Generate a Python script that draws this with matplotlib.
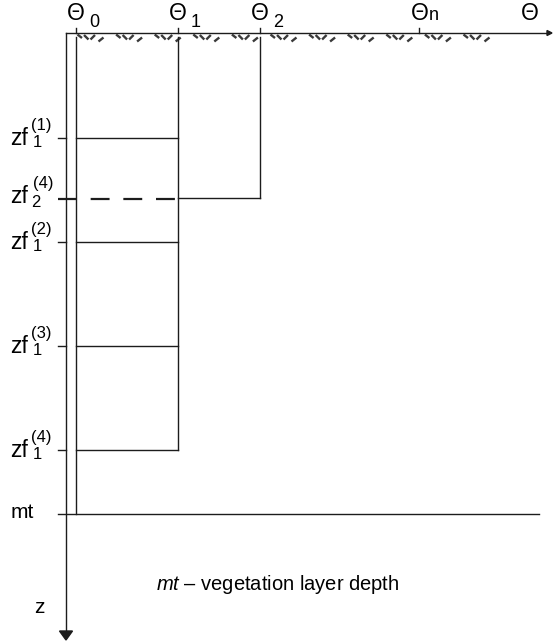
import matplotlib
matplotlib.use("Agg")
import matplotlib.pyplot as plt
from matplotlib.patches import Polygon

plt.rcParams["font.family"] = ["Liberation Sans", "DejaVu Sans"]
plt.rcParams["mathtext.fontset"] = "custom"
plt.rcParams["mathtext.it"] = "Liberation Sans:italic"
plt.rcParams["mathtext.rm"] = "Liberation Sans"

# Moisture axis (Θ) positions, measured from the depth axis
theta_names = ["0", "1", "2"]
theta_pos = [10, 112, 194]
theta_n_pos = 353
theta_end_label = 464
theta_axis_end = 486

# Depth (z) positions, measured down from the soil surface
zf1_depths = [104.7, 208.7, 313.0, 417.0]
zf1_labels = ["(1)", "(2)", "(3)", "(4)"]
zf2_depth = 166.0
zf2_label = "(4)"
mt_depth = 480.5
z_axis_end = 599

# Surface hatch groups
hatch_start = 11
hatch_step = 38.6
hatch_count = 11

INK = "#1c1c1c"
LW = 1.0

fig = plt.figure(figsize=(5.53, 6.44), dpi=100)
ax = fig.add_axes([0, 0, 1, 1])
ax.set_xlim(-66, 487)
ax.set_ylim(611, -33)
ax.axis("off")

# Axes: Θ along the top, z pointing down
ax.plot([0, theta_axis_end - 4], [0, 0], color=INK, lw=LW)
ax.add_patch(Polygon([[theta_axis_end - 5, -2.5], [theta_axis_end, 0],
                      [theta_axis_end - 5, 2.5]], closed=True, color=INK))
ax.plot([0, 0], [0, z_axis_end], color=INK, lw=LW)
ax.add_patch(Polygon([[-6.5, z_axis_end - 1], [6.5, z_axis_end - 1],
                      [0, z_axis_end + 8]], closed=True, color=INK))

# Θ ticks and labels
TH = 16.5
for name, x in zip(theta_names, theta_pos):
    ax.plot([x, x], [-5.5, 0], color=INK, lw=LW)
    ax.text(x, -13, "Θ", fontsize=TH, ha="center", va="baseline", color="black")
    ax.text(x + 13, -6, name, fontsize=13, ha="left", va="baseline", color="black")
ax.plot([theta_n_pos, theta_n_pos], [-5.5, 0], color=INK, lw=LW)
ax.text(theta_n_pos + 1, -13, "Θ", fontsize=TH, ha="center", va="baseline", color="black")
ax.text(theta_n_pos + 10, -13, "n", fontsize=13, ha="left", va="baseline", color="black")
ax.text(theta_end_label, -13, "Θ", fontsize=TH, ha="center", va="baseline", color="black")

# Surface hatch marks
strokes = [((0.5, 1.5), (5.0, 5.0)), ((7.0, 2.0), (11.5, 6.5)),
           ((13.5, 6.5), (18.0, 2.0)), ((21.5, 8.5), (26.5, 4.5))]
for i in range(hatch_count):
    x0 = hatch_start + i * hatch_step
    for (xa, ya), (xb, yb) in strokes:
        ax.plot([x0 + xa, x0 + xb], [ya, yb], color="#3a3a3a", lw=1.7,
                solid_capstyle="butt")

# Wetting-front columns
ax.plot([theta_pos[0], theta_pos[0]], [4, mt_depth], color=INK, lw=LW)
ax.plot([theta_pos[1], theta_pos[1]], [4, zf1_depths[-1]], color=INK, lw=LW)
ax.plot([theta_pos[2], theta_pos[2]], [4, zf2_depth - 0.7], color=INK, lw=LW)

ZF = 16.5
SUB = 12
for d, sup in zip(zf1_depths, zf1_labels):
    ax.plot([theta_pos[0], theta_pos[1]], [d, d], color=INK, lw=LW)
    ax.plot([-8, 0], [d, d], color=INK, lw=LW)
    ax.text(-56, d + 7, "zf", fontsize=ZF, ha="left", va="baseline")
    ax.text(-33.5, d + 9.5, "1", fontsize=SUB, ha="left", va="baseline")
    ax.text(-35.5, d - 8, sup, fontsize=SUB, ha="left", va="baseline")

# Second wetting front at step 4
ax.plot([-8, theta_pos[1]], [zf2_depth, zf2_depth], color=INK, lw=1.6,
        linestyle=(0, (8.5, 6.2)))
ax.plot([theta_pos[1], theta_pos[2]], [zf2_depth - 0.7, zf2_depth - 0.7],
        color=INK, lw=LW)
ax.text(-56, zf2_depth + 4, "zf", fontsize=ZF, ha="left", va="baseline")
ax.text(-34.5, zf2_depth + 8, "2", fontsize=SUB, ha="left", va="baseline")
ax.text(-33, zf2_depth - 11, zf2_label, fontsize=SUB, ha="left", va="baseline")

# Vegetation layer depth
ax.plot([-8, 473], [mt_depth, mt_depth], color=INK, lw=LW)
ax.text(-55, mt_depth + 5, "mt", fontsize=15, ha="left", va="baseline")
ax.text(-32, 580, "z", fontsize=15, ha="left", va="baseline")
ax.text(90, 557, r"$mt$ – vegetation layer depth", fontsize=14.5,
        ha="left", va="baseline")

fig.savefig("out.png", dpi=100)
